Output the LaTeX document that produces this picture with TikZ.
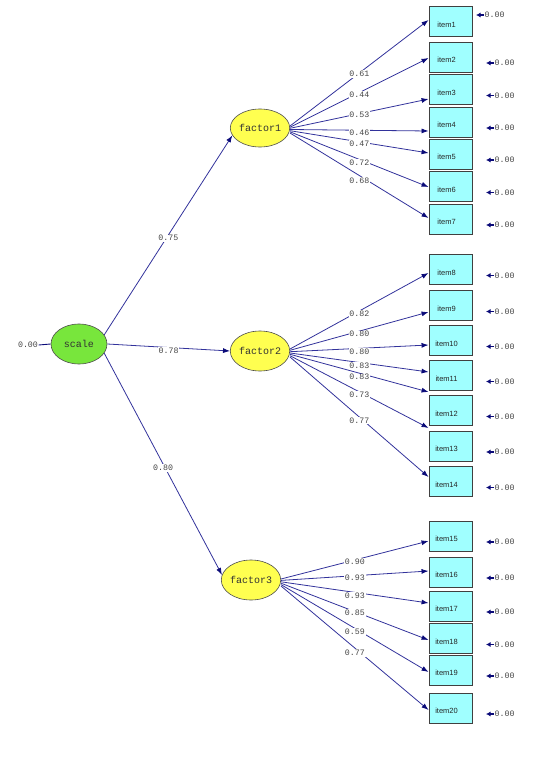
\documentclass[tikz,border=0pt]{standalone}
\usepackage{fontspec}
\setmainfont{Liberation Sans}
\newfontfamily\monofont{Liberation Mono}
\usetikzlibrary{arrows.meta,shapes.geometric}
\definecolor{lineblue}{RGB}{50,50,155}
\definecolor{tipblue}{RGB}{10,10,120}
\definecolor{boxcyan}{RGB}{160,255,255}
\definecolor{facyellow}{RGB}{255,255,80}
\definecolor{scgreen}{RGB}{120,230,60}
\definecolor{numgray}{RGB}{70,70,70}
\tikzset{
  itembox/.style={draw=black!75, line width=0.9pt, fill=boxcyan, minimum width=43pt, minimum height=30pt, inner sep=0pt},
  itemtxt/.style={font=\fontsize{7.5}{8}\selectfont, text=black!85},
  latent/.style={ellipse, draw=black!70, line width=0.6pt, inner sep=0pt, font=\monofont\fontsize{10}{11}\selectfont, text=black!80},
  path/.style={draw=lineblue, line width=0.8pt, -{Latex[length=7pt,width=5pt,color=tipblue]}},
  num/.style={font=\monofont\fontsize{8.3}{9}\selectfont, text=numgray, fill=white, inner sep=0.8pt},
  errnum/.style={font=\monofont\fontsize{8.3}{9}\selectfont, text=numgray, inner sep=0.5pt, anchor=west},
  errarrow/.style={draw=tipblue, line width=1.3pt, -{Latex[length=4.5pt,width=5pt]}}
}
\begin{document}
\begin{tikzpicture}[x=1pt,y=-1pt]
\useasboundingbox (0,0) rectangle (546,762);
% latent variables
\node[latent, fill=scgreen, minimum width=56pt, minimum height=40pt] (scale) at (79,344) {scale};
\node[latent, fill=facyellow, minimum width=54pt, minimum height=38pt] (f1) at (260,128) {factor1};
\node[latent, fill=facyellow, minimum width=55pt, minimum height=40pt] (f2) at (260,351) {factor2};
\node[latent, fill=facyellow, minimum width=57pt, minimum height=40pt] (f3) at (251,580) {factor3};
% scale variance
\node[font=\monofont\fontsize{8.3}{9}\selectfont, text=numgray, inner sep=0.5pt] (sv) at (28,345) {0.00};
\draw[draw=tipblue, line width=0.9pt] (sv.east) -- (scale.west);
% items
\foreach \i/\y in {1/21.5,2/57,3/89.5,4/122,5/154,6/186.5,7/219,
                   8/269.5,9/305.5,10/340.5,11/375.5,12/410.5,13/446,14/481.5,
                   15/536,16/572,17/606,18/638.5,19/670,20/708}{
  \node[itembox] (it\i) at (450.5,\y) {};
  \node[itemtxt] (lb\i) at (446.5,\y+3) {item\i};
}
% error variances
\node[errnum] (e1) at (484,15) {0.00};
\draw[errarrow] (e1.west) -- ++(-8,0);
\foreach \i/\y in {2/57,3/89.5,4/122,5/154,6/186.5,7/219,
                   8/269.5,9/305.5,10/340.5,11/375.5,12/410.5,13/446,14/481.5,
                   15/536,16/572,17/606,18/638.5,19/670,20/708}{
  \node[errnum] (e\i) at (494,\y+6) {0.00};
  \draw[errarrow] (e\i.west) -- ++(-8,0);
}
% structural paths
\draw[path] (scale.20) -- node[num, pos=0.5, yshift=-3pt] {0.75} (f1.195);
\draw[path] (scale.east) -- node[num, pos=0.5, yshift=-3.5pt] {0.78} (f2.west);
\draw[path] (scale.-20) -- node[num, pos=0.5, yshift=-4pt] {0.80} (f3.170);
% loadings: item/value/start shift/end shift/label shift (canvas, up positive)
\foreach \i/\v/\s/\e/\l in {1/0.61/2/1.5/-1, 2/0.44/0.8/-1/-2.4, 3/0.53/-0.3/-9.5/-1.3,
    4/0.46/-1.5/-9/-2.1, 5/0.47/-2.7/1/-1.5, 6/0.72/-3.8/-0.5/-2.9, 7/0.68/-5/1/-5.5}{
  \draw[path] ([yshift=\s pt]f1.east) -- node[num, pos=0.5, yshift=\l pt] {\v} ([yshift=\e pt]it\i.west);
}
\foreach \i/\v/\s/\e/\l in {8/0.82/2/-3.5/-3, 9/0.80/0.7/-6.5/-3, 10/0.80/-0.7/-4.5/-3,
    11/0.83/-2/3.5/-3, 12/0.83/-3.3/18.5/-4, 13/0.73/-4.7/18/-3, 14/0.77/-6/4.5/-3.5}{
  \draw[path] ([yshift=\s pt]f2.east) -- node[num, pos=0.5, yshift=\l pt] {\v} ([yshift=\e pt]it\i.west);
}
\foreach \i/\v/\s/\e/\l in {15/0.90/1/-5/-2, 16/0.93/-0.4/1/-2.3, 17/0.93/-1.8/3/-3.6,
    18/0.85/-3.2/-1.5/-1.4, 19/0.59/-4.6/-2/-3.7, 20/0.77/-6/-2/-5}{
  \draw[path] ([yshift=\s pt]f3.east) -- node[num, pos=0.5, yshift=\l pt] {\v} ([yshift=\e pt]it\i.west);
}
\end{tikzpicture}
\end{document}
